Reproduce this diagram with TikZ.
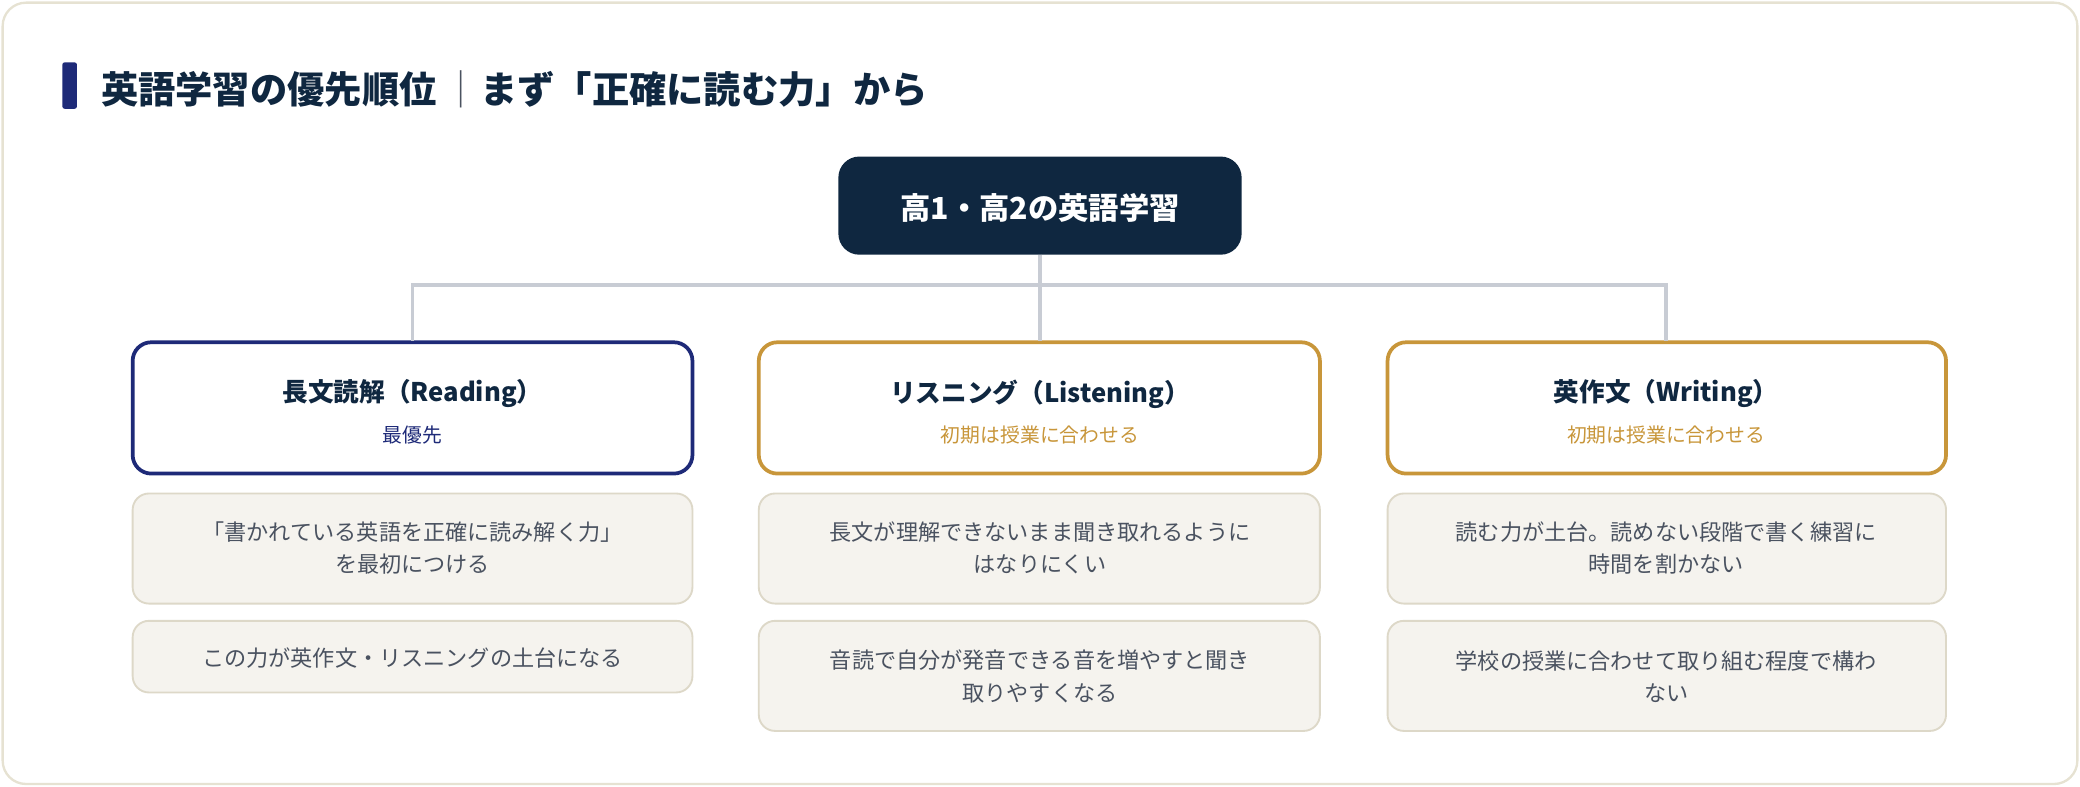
\documentclass[tikz,border=0pt]{standalone}
\usepackage{fontspec}
\setmainfont{Noto Sans CJK JP}
\definecolor{navy}{HTML}{0F2740}
\definecolor{bar}{HTML}{1E2A78}
\definecolor{gold}{HTML}{C8963A}
\definecolor{line}{HTML}{C8CCD4}
\definecolor{boxbg}{HTML}{F5F3EE}
\definecolor{boxbd}{HTML}{DDD8C8}
\definecolor{txt}{HTML}{4A5260}
\definecolor{outer}{HTML}{E6E2D2}
\begin{document}
\begin{tikzpicture}[x=0.02cm,y=-0.02cm,
 card/.style={draw, line width=1.6pt, rounded corners=8pt, fill=white},
 info/.style={draw=boxbd, line width=0.8pt, rounded corners=7pt, fill=boxbg},
 conn/.style={draw=line, line width=1.6pt},
 ttl/.style={font=\bfseries\fontsize{11}{13}\selectfont, text=navy},
 sub/.style={font=\fontsize{8.5}{10}\selectfont},
 itxt/.style={font=\fontsize{9.5}{14}\selectfont, text=txt, align=center}]
\useasboundingbox (0,0) rectangle (1568,593);
\draw[draw=outer, line width=1pt, fill=white, rounded corners=10pt] (2,2) rectangle (1566,591);
\fill[bar, rounded corners=1pt] (47,47) rectangle (58,82);
\node[anchor=west, font=\bfseries\fontsize{16}{18}\selectfont, text=navy] (title) at (70,67) {英語学習の優先順位{\color{txt}\,\textmd{｜}}まず「正確に読む力」から};
\node[fill=navy, rounded corners=9pt, minimum width=304\pgflinewidth, inner sep=0pt, text=white, font=\bfseries\fontsize{13}{15}\selectfont] (top) at (784,155) {};
\fill[navy, rounded corners=9pt] (632,118) rectangle (936,192);
\node[text=white, font=\bfseries\fontsize{13}{15}\selectfont] (toplbl) at (784,157) {高1・高2の英語学習};
\coordinate (topb) at (784,192);
% cards
\draw[card, draw=bar] (100,258) rectangle (522,357);
\draw[card, draw=gold] (572,258) rectangle (995,357);
\draw[card, draw=gold] (1046,258) rectangle (1467,357);
\coordinate (c1) at (311,257); \coordinate (c2) at (784,257); \coordinate (c3) at (1256,257);
\coordinate (j) at (784,215);
\draw[conn] (topb) -- (j);
\draw[conn] (c1) |- (j) -| (c3);
\draw[conn] (j) -- (c2);
\node[ttl] (t1) at (311,297) {長文読解（Reading）};
\node[sub, text=bar] (s1) at (311,328) {最優先};
\node[ttl] (t2) at (784,297) {リスニング（Listening）};
\node[sub, text=gold] (s2) at (784,328) {初期は授業に合わせる};
\node[ttl] (t3) at (1256,297) {英作文（Writing）};
\node[sub, text=gold] (s3) at (1256,328) {初期は授業に合わせる};
% info boxes
\draw[info] (100,372) rectangle (522,455);
\draw[info] (572,372) rectangle (995,455);
\draw[info] (1046,372) rectangle (1467,455);
\draw[info] (100,468) rectangle (522,522);
\draw[info] (572,468) rectangle (995,551);
\draw[info] (1046,468) rectangle (1467,551);
\node[itxt] (i1) at (311,413) {「書かれている英語を正確に読み解く力」\\を最初につける};
\node[itxt] (i2) at (784,413) {長文が理解できないまま聞き取れるように\\はなりにくい};
\node[itxt] (i3) at (1256,413) {読む力が土台。読めない段階で書く練習に\\時間を割かない};
\node[itxt] (i4) at (311,496) {この力が英作文・リスニングの土台になる};
\node[itxt] (i5) at (784,510) {音読で自分が発音できる音を増やすと聞き\\取りやすくなる};
\node[itxt] (i6) at (1256,510) {学校の授業に合わせて取り組む程度で構わ\\ない};
\end{tikzpicture}
\end{document}
